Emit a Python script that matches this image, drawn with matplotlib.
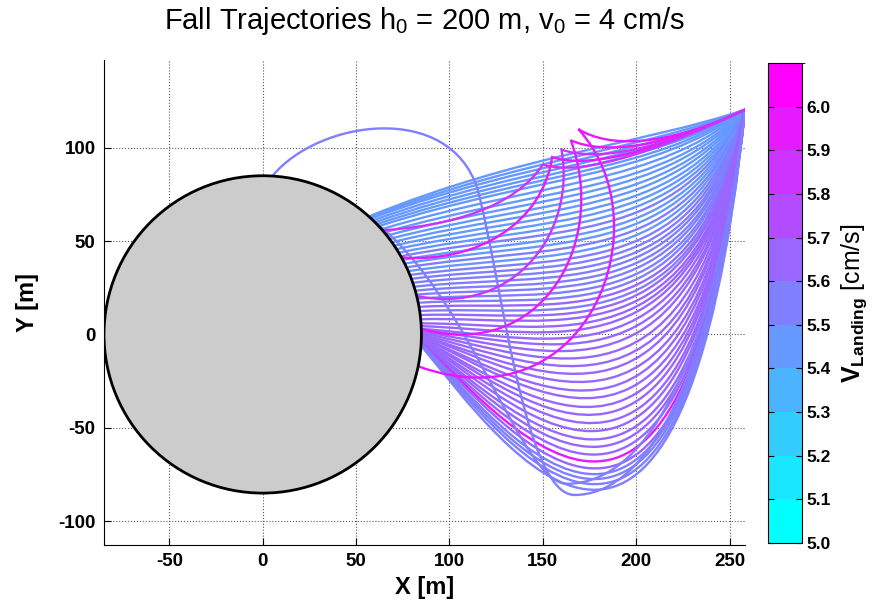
import matplotlib
matplotlib.use("Agg")
import numpy as np
import matplotlib.pyplot as plt
from matplotlib.path import Path
from matplotlib.patches import Circle, PathPatch
from matplotlib.colors import ListedColormap, BoundaryNorm
from matplotlib.colorbar import ColorbarBase

plt.rcParams['font.family'] = ['Liberation Sans', 'DejaVu Sans']
plt.rcParams['mathtext.fontset'] = 'custom'
plt.rcParams['mathtext.rm'] = 'Liberation Sans'
plt.rcParams['mathtext.bf'] = 'Liberation Sans:bold'
plt.rcParams['mathtext.it'] = 'Liberation Sans:italic'
plt.rcParams['axes.unicode_minus'] = False

# asteroid and release point [m]
R_AST = 85.0
START = (258.3, 120.4)

# landing speed classes [cm/s]
V_EDGES = [5.0, 5.1, 5.2, 5.3, 5.4, 5.5, 5.6, 5.7, 5.8, 5.9, 6.0, 6.1]
V_TICKS = [5.0, 5.1, 5.2, 5.3, 5.4, 5.5, 5.6, 5.7, 5.8, 5.9, 6.0]

# main fan of trajectories: landing angle on rim [deg], bezier handles, landing speed
fan_land_deg = [48, 47.5, 47, 46, 45, 44, 43, 41.5, 40, 38.5, 37, 35.5, 34, 32.5, 31,
                29.5, 28, 26.5, 25, 23.5, 22, 20.5, 19, 17.5, 16, 14.5, 13, 11.5, 10,
                8.5, 7, 5.5, 4, 3,
                2, 1.5, 1, 0.5, 0, -0.5, -0.5, -1, -1, -1.5, -1.5, -2, -2, -2.5, -2.5,
                -3, -3, -3, -3.5, -3.5, -4, -4]
fan_h1 = [(204, 102), (205, 99), (206, 96), (207, 93), (208, 90), (209, 87), (210, 84),
          (212, 80), (214, 76), (215, 72), (217, 68), (218, 64), (220, 60), (221, 56),
          (222, 52), (223, 48), (224, 44), (225, 40), (226, 36), (227, 32), (228, 28),
          (229, 24), (230, 20), (230, 16), (231, 12), (231, 8), (232, 4), (232, 0),
          (233, -4), (233, -8), (233, -12), (234, -16), (234, -20), (234, -24),
          (234, -30), (234, -37), (233, -44), (233, -52), (233, -60), (232, -68),
          (232, -77), (231, -86), (231, -95), (230, -104), (229, -113), (229, -122),
          (228, -131), (228, -140), (227, -149), (226, -158), (226, -166), (226, -174),
          (225, -181), (225, -187), (225, -193), (225, -199)]
fan_h2 = [(140, 97), (141, 95), (142, 93), (143, 91), (144, 89), (145, 87), (146, 85),
          (148, 82), (150, 79), (151, 76), (152, 73), (153, 70), (154, 67), (155, 64),
          (156, 61), (157, 58), (158, 55), (158, 52), (159, 49), (159, 46), (160, 43),
          (160, 40), (160, 37), (160, 34), (160, 31), (160, 28), (160, 25), (160, 22),
          (160, 19), (160, 16), (159, 13), (159, 10), (158, 6), (157, 2),
          (156, -2), (155, -5), (154, -9), (154, -13), (153, -17), (152, -21),
          (151, -25), (150, -29), (149, -32), (148, -36), (147, -39), (146, -42),
          (144, -45), (143, -48), (141, -50), (140, -52), (138, -54), (137, -56),
          (135, -57), (133, -58), (132, -59), (130, -61)]
fan_v = [5.45, 5.45, 5.45, 5.45, 5.45, 5.45, 5.45, 5.45, 5.45, 5.45, 5.45, 5.45, 5.45,
         5.45, 5.45, 5.55, 5.45, 5.45, 5.55, 5.45, 5.55, 5.55, 5.55, 5.55, 5.55, 5.55,
         5.55, 5.55, 5.65, 5.55, 5.65, 5.65, 5.65, 5.65,
         5.65, 5.65, 5.65, 5.65, 5.65, 5.65, 5.65, 5.65, 5.65, 5.65, 5.65, 5.65,
         5.65, 5.65, 5.65, 5.65, 5.95, 5.65, 5.55, 5.55, 5.5, 5.5]

# hooked trajectories (cusp near the top edge)
hook_cusp = [(169, 110), (165, 104), (160, 99), (155, 95), (150, 91)]
hook_h1 = [(215, 100), (215, 100), (215, 100), (215, 100), (215, 100)]
hook_h2 = [(185, 100), (183, 96), (180, 92), (176, 88), (172, 84)]
hook_h3 = [(215, 60), (185, 50), (168, 55), (150, 60), (135, 68)]
hook_h4 = [(175, -50), (150, -15), (135, 10), (115, 38), (100, 58)]
hook_land_deg = [-11.6, 2, 14, 29, 41]
hook_v = [5.95, 5.95, 5.85, 5.95, 5.85]

# long loops (dip far below then climb back)
loop_bottom = [(167, -86), (163, -80)]
loop_h1 = [(240, -40), (238, -40)]
loop_h2 = [(200, -86), (196, -80)]
loop_h3 = [(140, -86), (138, -80)]
loop_h4 = [(128, 30), (112, 20)]
loop_mid = [(115, 78), None]
loop_h5 = [(100, 125), None]
loop_h6 = [(30, 115), None]
loop_land_deg = [86.5, 45]
loop_v = [5.55, 5.5]

cmap = ListedColormap(plt.get_cmap('cool')(np.linspace(0, 1, len(V_EDGES) - 1)))
norm = BoundaryNorm(V_EDGES, cmap.N)


def rim(deg):
    a = np.deg2rad(deg)
    return (R_AST * np.cos(a), R_AST * np.sin(a))


def draw(ax, verts, v):
    codes = [Path.MOVETO] + [Path.CURVE4] * (len(verts) - 1)
    ax.add_patch(PathPatch(Path(verts, codes), fill=False, edgecolor=cmap(norm(v)),
                           lw=1.7, capstyle='round', zorder=2))


fig = plt.figure(figsize=(8.73, 6.04), dpi=100)
ax = fig.add_axes([104 / 873, 59 / 604, 641 / 873, 485 / 604])

for d, h1, h2, v in zip(fan_land_deg, fan_h1, fan_h2, fan_v):
    draw(ax, [START, h1, h2, rim(d)], v)

for i in range(len(loop_v)):
    verts = [START, loop_h1[i], loop_h2[i], loop_bottom[i], loop_h3[i], loop_h4[i]]
    if loop_mid[i] is not None:
        verts += [loop_mid[i], loop_h5[i], loop_h6[i], rim(loop_land_deg[i])]
    else:
        verts += [rim(loop_land_deg[i])]
    draw(ax, verts, loop_v[i])

for k, h1, h2, h3, h4, d, v in zip(hook_cusp, hook_h1, hook_h2, hook_h3, hook_h4,
                                   hook_land_deg, hook_v):
    draw(ax, [START, h1, h2, k, h3, h4, rim(d)], v)

ax.add_patch(Circle((0, 0), R_AST, facecolor='#cccccc', edgecolor='black', lw=2, zorder=3))

ax.set_xlim(-85, 258.3)
ax.set_ylim(-112.8, 147.0)
ax.set_xticks([-50, 0, 50, 100, 150, 200, 250])
ax.set_yticks([-100, -50, 0, 50, 100])
ax.grid(True, linestyle=':', color='0.35', lw=0.8)
ax.set_axisbelow(True)
for s in ['top', 'right']:
    ax.spines[s].set_visible(False)
ax.tick_params(direction='in', labelsize=13.5, length=5, pad=6)
for lab in ax.get_xticklabels() + ax.get_yticklabels():
    lab.set_fontweight('bold')
ax.set_xlabel('X [m]', fontsize=17, fontweight='bold', labelpad=4)
ax.set_ylabel('Y [m]', fontsize=17, fontweight='bold', labelpad=14)
ax.set_title(r'Fall Trajectories h$_0$ = 200 m, v$_0$ = 4 cm/s', fontsize=21, pad=22)

cax = fig.add_axes([768 / 873, 61 / 604, 34 / 873, 480 / 604])
cb = ColorbarBase(cax, cmap=cmap, norm=norm, ticks=V_TICKS, format='%.1f')
cax.tick_params(direction='in', labelsize=12.5, length=4, left=True, right=True)
for lab in cax.get_yticklabels():
    lab.set_fontweight('bold')
cb.set_label(r'$\mathbf{V_{Landing}}$ [cm/s]', fontsize=18, labelpad=6)

fig.savefig('out.png', dpi=100)
